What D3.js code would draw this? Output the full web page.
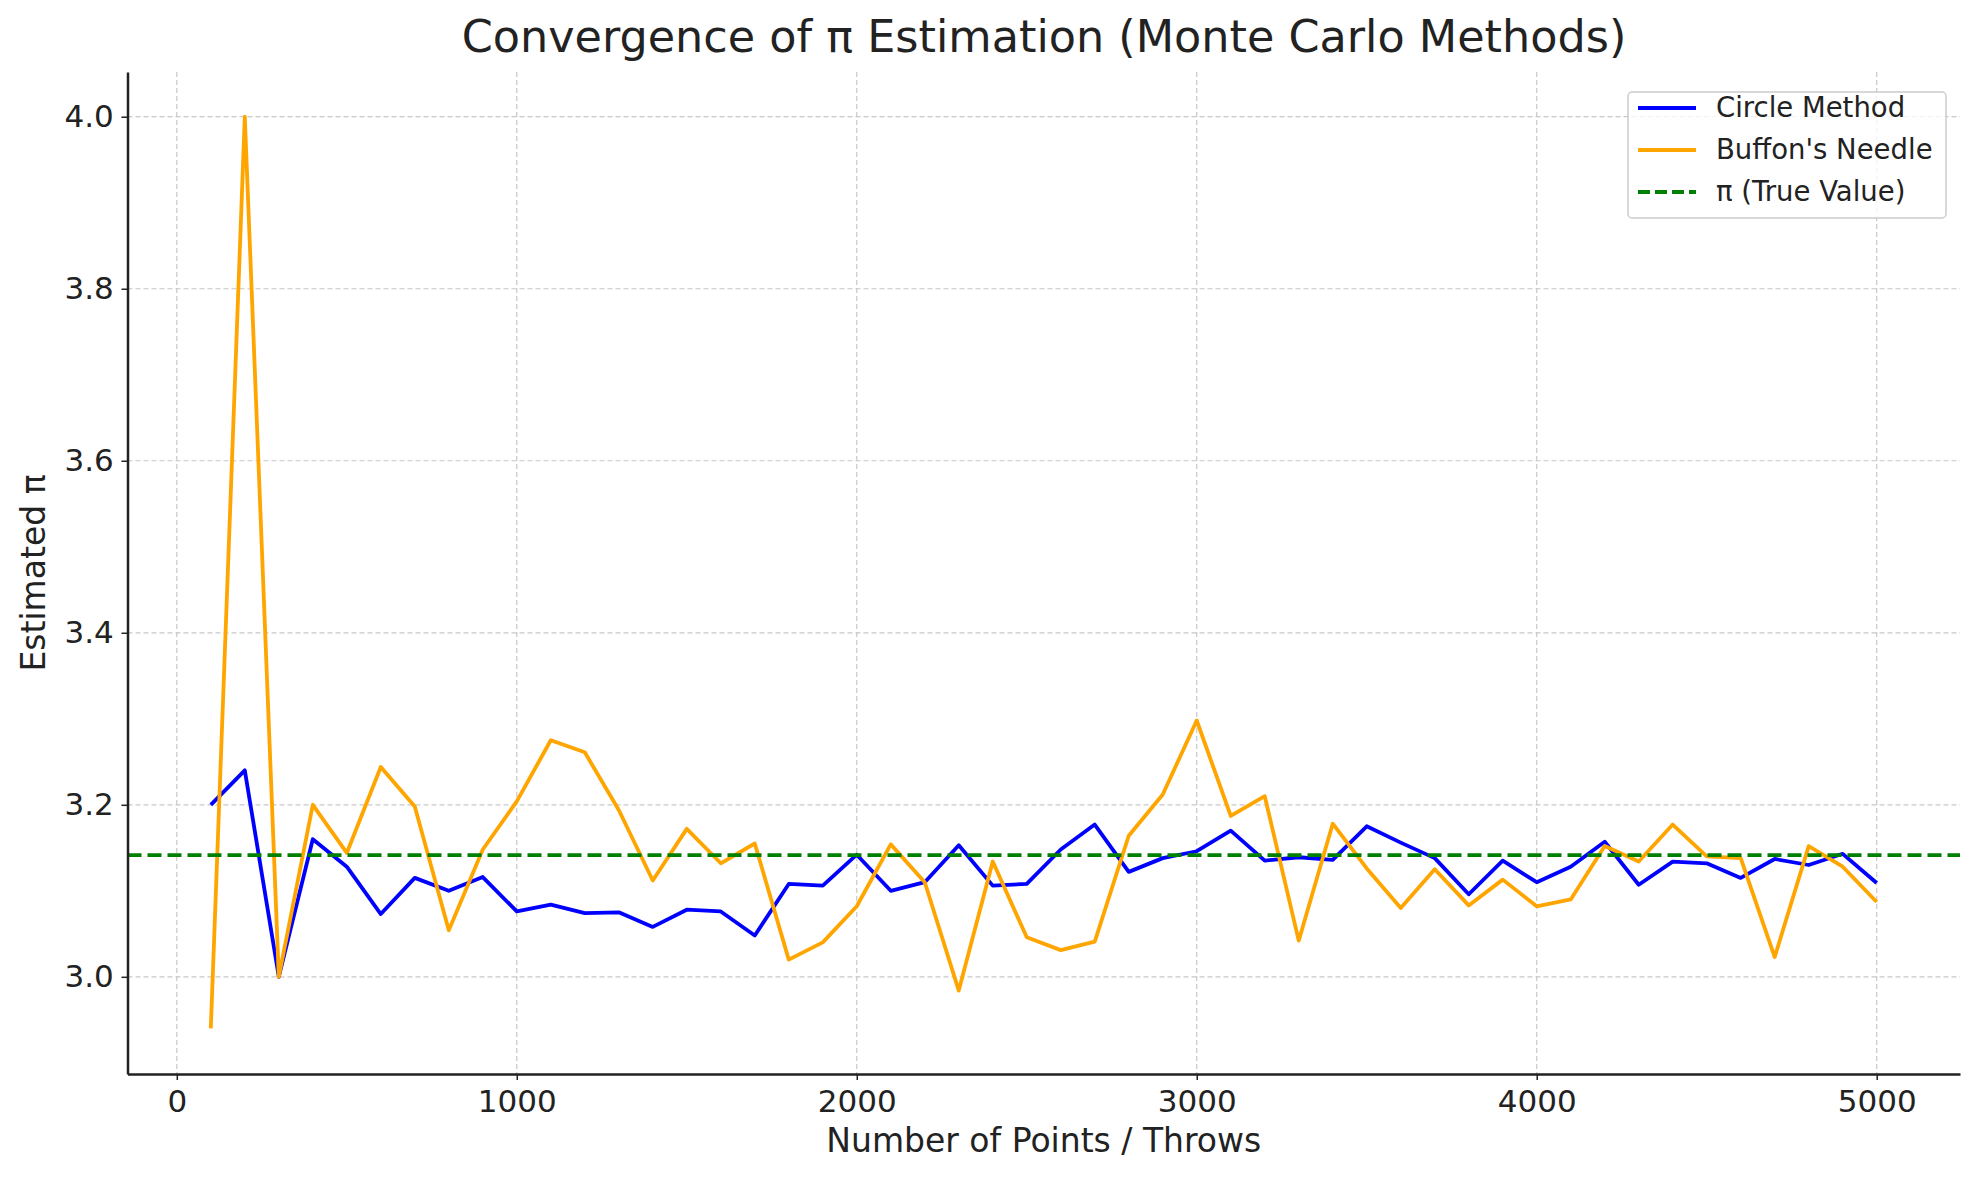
<!DOCTYPE html>
<html>
<head>
<meta charset="utf-8">
<script src="https://cdn.jsdelivr.net/npm/d3@7"></script>
<style>
  body { margin: 0; background: #fff; }
  text { font-family: "DejaVu Sans", sans-serif; fill: #222; }
</style>
</head>
<body>
<svg id="chart" width="1979" height="1180"></svg>
<script>
const steps = d3.range(100, 5001, 100);
const circleVals = [3.20, 3.24, 3.00, 3.16, 3.128, 3.073, 3.115, 3.10, 3.116, 3.076,
  3.084, 3.074, 3.075, 3.058, 3.078, 3.076, 3.048, 3.108, 3.106, 3.142,
  3.10, 3.11, 3.153, 3.106, 3.108, 3.148, 3.177, 3.122, 3.138, 3.146,
  3.17, 3.135, 3.139, 3.136, 3.175, 3.156, 3.138, 3.096, 3.135, 3.11,
  3.128, 3.157, 3.107, 3.134, 3.132, 3.115, 3.137, 3.13, 3.143, 3.109];
const buffonVals = [2.94, 4.00, 3.00, 3.20, 3.144, 3.244, 3.198, 3.054, 3.148, 3.204,
  3.275, 3.261, 3.194, 3.112, 3.172, 3.132, 3.155, 3.02, 3.04, 3.082,
  3.154, 3.11, 2.984, 3.134, 3.046, 3.031, 3.041, 3.164, 3.212, 3.298,
  3.187, 3.21, 3.042, 3.178, 3.126, 3.08, 3.125, 3.083, 3.113, 3.082,
  3.09, 3.152, 3.134, 3.177, 3.14, 3.138, 3.023, 3.152, 3.128, 3.087];
const xTicks = [0, 1000, 2000, 3000, 4000, 5000];
const yTicks = [3.0, 3.2, 3.4, 3.6, 3.8, 4.0];
const series = [
  {name: "Circle Method", color: "#0000ff", values: circleVals},
  {name: "Buffon's Needle", color: "#ffa500", values: buffonVals}
];

const svg = d3.select("#chart");
const m = {left: 127.5, right: 1960, top: 72, bottom: 1074};

const x = d3.scaleLinear().domain([-145, 5245]).range([m.left, m.right]);
const y = d3.scaleLinear().domain([2.887, 4.052]).range([m.bottom, m.top]);

// grid
svg.append("g").selectAll("line").data(xTicks).join("line")
  .attr("x1", d => x(d)).attr("x2", d => x(d))
  .attr("y1", m.top).attr("y2", m.bottom)
  .attr("stroke", "#c8c8c8").attr("stroke-width", 1.2).attr("stroke-dasharray", "5,3");
svg.append("g").selectAll("line").data(yTicks).join("line")
  .attr("x1", m.left).attr("x2", m.right)
  .attr("y1", d => y(d)).attr("y2", d => y(d))
  .attr("stroke", "#c8c8c8").attr("stroke-width", 1.2).attr("stroke-dasharray", "5,3");

const line = d3.line().x((d, i) => x(steps[i])).y(d => y(d));
series.forEach(s => {
  svg.append("path").datum(s.values)
    .attr("d", line).attr("fill", "none")
    .attr("stroke", s.color).attr("stroke-width", 3.8)
    .attr("stroke-linejoin", "round");
});

svg.append("line")
  .attr("x1", m.left).attr("x2", m.right)
  .attr("y1", y(Math.PI)).attr("y2", y(Math.PI))
  .attr("stroke", "#008000").attr("stroke-width", 3.8).attr("stroke-dasharray", "14,6");

// axes
const xAxis = svg.append("g").attr("transform", `translate(0,${m.bottom})`)
  .call(d3.axisBottom(x).tickValues(xTicks).tickFormat(d3.format("d")).tickSize(6).tickSizeOuter(0));
const yAxis = svg.append("g").attr("transform", `translate(${m.left},0)`)
  .call(d3.axisLeft(y).tickValues(yTicks).tickFormat(d3.format(".1f")).tickSize(6).tickSizeOuter(0));
[xAxis, yAxis].forEach(a => {
  a.select(".domain").attr("stroke", "#222").attr("stroke-width", 2.5);
  a.selectAll(".tick line").attr("stroke", "#222").attr("stroke-width", 1.5);
  a.selectAll("text").attr("font-size", 31).attr("font-family", "DejaVu Sans, sans-serif").attr("fill", "#222");
});
xAxis.selectAll(".tick text").attr("dy", "0.95em");
yAxis.selectAll(".tick text").attr("dx", "-0.15em");

svg.append("text").attr("x", 1044).attr("y", 52).attr("text-anchor", "middle")
  .attr("font-size", 44.5).attr("fill", "#333").text("Convergence of π Estimation (Monte Carlo Methods)");
svg.append("text").attr("x", (m.left + m.right) / 2).attr("y", 1152).attr("text-anchor", "middle")
  .attr("font-size", 33).text("Number of Points / Throws");
svg.append("text").attr("transform", `translate(45,${(m.top + m.bottom) / 2}) rotate(-90)`)
  .attr("text-anchor", "middle").attr("font-size", 33).text("Estimated π");

// legend
const lg = svg.append("g").attr("transform", "translate(1628,92)");
lg.append("rect").attr("width", 318).attr("height", 126).attr("rx", 4)
  .attr("fill", "#fff").attr("fill-opacity", 0.8).attr("stroke", "#ccc").attr("stroke-width", 1.5);
const items = [
  {name: series[0].name, color: series[0].color, dash: null},
  {name: series[1].name, color: series[1].color, dash: null},
  {name: "π (True Value)", color: "#008000", dash: "12,5"}
];
items.forEach((it, i) => {
  const yy = 16 + i * 42;
  lg.append("line").attr("x1", 10).attr("x2", 68).attr("y1", yy).attr("y2", yy)
    .attr("stroke", it.color).attr("stroke-width", 3.8).attr("stroke-dasharray", it.dash);
  lg.append("text").attr("x", 88).attr("y", yy + 9).attr("font-size", 27.5).attr("fill", "#333").text(it.name);
});
</script>
</body>
</html>
